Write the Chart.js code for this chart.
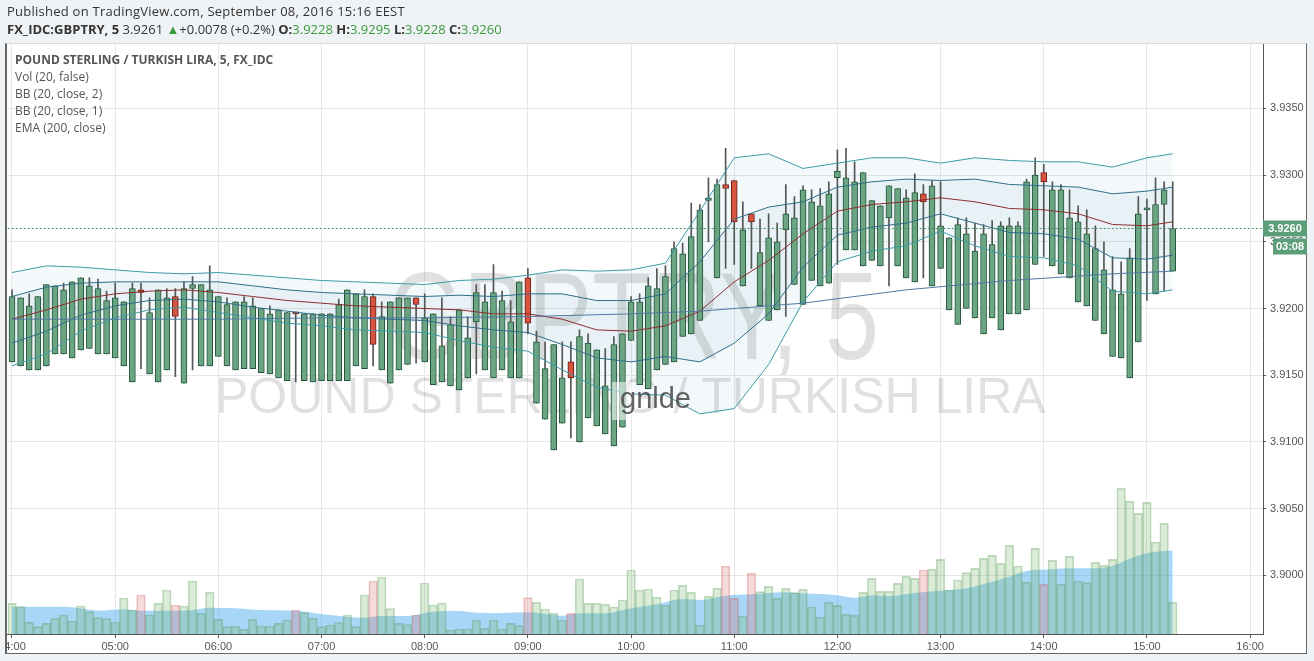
<!DOCTYPE html>
<html>
<head>
<meta charset="utf-8">
<script src="https://cdn.jsdelivr.net/npm/chart.js@4.4.0/dist/chart.umd.min.js"></script>
<style>
  html, body { margin: 0; padding: 0; }
  body { width: 1314px; height: 661px; background: #f0f3f6; position: relative; overflow: hidden; font-family: 'Open Sans', sans-serif; }
  #panel { position: absolute; left: 5px; top: 43px; width: 1299px; height: 609px; background: #fff;
           border-top: 1px solid #d6d9dd; border-left: 2px solid #666; border-right: 1px solid #666; border-bottom: 1px solid #666; }
  #chart { position: absolute; left: 0; top: 0; z-index: 1; }
  #leftcover { position: absolute; left: 0; top: 43px; width: 5px; height: 618px; background: #f0f3f6; z-index: 2; }
  .hdr { position: absolute; left: 7px; z-index: 3; white-space: nowrap; color: #333; }
  #pub { top: 2px; font-size: 13px; line-height: 18px; letter-spacing: 0.25px; }
  #sym { top: 20px; font-size: 13px; line-height: 18px; }
  #sym .g { color: #3a9a3e; }
  #legend { position: absolute; left: 15px; top: 51px; z-index: 3; font-size: 12px; line-height: 17px; color: #555; }
</style>
</head>
<body>
<div class="hdr" id="pub">Published on TradingView.com, September 08, 2016 15:16 EEST</div>
<div class="hdr" id="sym"><b>FX_IDC:GBPTRY, 5</b> 3.9261 <span class="g">&#9650;</span>+0.0078 (+0.2%) <b>O:</b><span class="g">3.9228</span> <b>H:</b><span class="g">3.9295</span> <b>L:</b><span class="g">3.9228</span> <b>C:</b><span class="g">3.9260</span></div>
<div id="panel"></div>
<canvas id="chart" width="1314" height="661"></canvas>
<div id="leftcover"></div>
<div id="legend"><b>POUND STERLING / TURKISH LIRA, 5, FX_IDC</b><br>Vol (20, false)<br>BB (20, close, 2)<br>BB (20, close, 1)<br>EMA (200, close)</div>
<script>
// 5-minute bars from 04:00, axis runs to 16:05
var times = [];
for (var h = 4; h <= 16; h++) {
	for (var m = 0; m < 60; m += 5) {
		if (times.length < 146) times.push((h < 10 ? '0' : '') + h + ':' + (m < 10 ? '0' : '') + m);
	}
}

var opens = [3.9160,3.9157,3.9154,3.9154,3.9157,3.9166,3.9166,3.9163,3.9169,3.9170,
3.9166,3.9166,3.9163,3.9157,3.9145,3.9214,3.9151,3.9145,3.9154,3.9209,
3.9144,3.9215,3.9157,3.9157,3.9164,3.9157,3.9154,3.9155,3.9155,3.9152,
3.9151,3.9148,3.9146,3.9197,3.9146,3.9145,3.9146,3.9146,3.9146,3.9146,
3.9157,3.9155,3.9209,3.9154,3.9144,3.9154,3.9158,3.9208,3.9160,3.9143,
3.9145,3.9142,3.9139,3.9148,3.9190,3.9154,3.9148,3.9154,3.9148,3.9148,
3.9223,3.9129,3.9117,3.9094,3.9114,3.9160,3.9100,3.9118,3.9112,3.9106,
3.9097,3.9111,3.9176,3.9143,3.9140,3.9154,3.9158,3.9160,3.9179,3.9181,
3.9191,3.9281,3.9223,3.9293,3.9296,3.9217,3.9271,3.9202,3.9191,3.9199,
3.9259,3.9218,3.9203,3.9221,3.9217,3.9219,3.9298,3.9244,3.9244,3.9232,
3.9236,3.9232,3.9268,3.9232,3.9223,3.9220,3.9286,3.9217,3.9230,3.9199,
3.9188,3.9200,3.9193,3.9181,3.9193,3.9184,3.9196,3.9196,3.9199,3.9233,
3.9302,3.9232,3.9226,3.9223,3.9205,3.9202,3.9191,3.9181,3.9164,3.9163,
3.9148,3.9175,3.9274,3.9211,3.9278,3.9228];

var highs = [3.9214,3.9208,3.9211,3.9209,3.9218,3.9217,3.9219,3.9220,3.9223,3.9223,
3.9222,3.9213,3.9219,3.9205,3.9219,3.9219,3.9208,3.9214,3.9215,3.9215,
3.9220,3.9224,3.9218,3.9232,3.9209,3.9208,3.9205,3.9209,3.9208,3.9200,
3.9202,3.9199,3.9197,3.9197,3.9196,3.9196,3.9196,3.9196,3.9207,3.9214,
3.9211,3.9214,3.9211,3.9205,3.9205,3.9208,3.9208,3.9208,3.9211,3.9196,
3.9208,3.9194,3.9199,3.9194,3.9218,3.9218,3.9233,3.9213,3.9206,3.9220,
3.9230,3.9183,3.9175,3.9173,3.9175,3.9175,3.9184,3.9181,3.9169,3.9170,
3.9179,3.9181,3.9209,3.9211,3.9223,3.9230,3.9232,3.9250,3.9249,3.9279,
3.9278,3.9298,3.9297,3.9320,3.9296,3.9280,3.9271,3.9267,3.9271,3.9264,
3.9293,3.9284,3.9292,3.9289,3.9290,3.9295,3.9319,3.9320,3.9310,3.9302,
3.9281,3.9277,3.9292,3.9290,3.9289,3.9301,3.9293,3.9296,3.9295,3.9253,
3.9268,3.9268,3.9264,3.9263,3.9266,3.9265,3.9268,3.9265,3.9297,3.9313,
3.9308,3.9295,3.9293,3.9289,3.9277,3.9274,3.9262,3.9250,3.9239,3.9235,
3.9245,3.9284,3.9282,3.9298,3.9295,3.9295];

var lows = [3.9160,3.9157,3.9154,3.9154,3.9157,3.9166,3.9166,3.9163,3.9169,3.9170,
3.9166,3.9166,3.9163,3.9157,3.9145,3.9155,3.9151,3.9145,3.9154,3.9149,
3.9144,3.9154,3.9157,3.9157,3.9164,3.9157,3.9154,3.9155,3.9155,3.9152,
3.9151,3.9148,3.9146,3.9145,3.9146,3.9145,3.9146,3.9146,3.9146,3.9146,
3.9157,3.9155,3.9157,3.9154,3.9144,3.9154,3.9158,3.9159,3.9160,3.9143,
3.9145,3.9142,3.9139,3.9148,3.9151,3.9154,3.9148,3.9154,3.9148,3.9148,
3.9181,3.9129,3.9117,3.9094,3.9114,3.9103,3.9100,3.9118,3.9112,3.9106,
3.9097,3.9111,3.9176,3.9143,3.9140,3.9154,3.9158,3.9160,3.9179,3.9181,
3.9191,3.9250,3.9223,3.9230,3.9233,3.9217,3.9230,3.9202,3.9191,3.9199,
3.9194,3.9218,3.9203,3.9221,3.9217,3.9219,3.9233,3.9244,3.9244,3.9232,
3.9236,3.9232,3.9217,3.9232,3.9223,3.9220,3.9223,3.9217,3.9230,3.9199,
3.9188,3.9200,3.9193,3.9181,3.9193,3.9184,3.9196,3.9196,3.9199,3.9233,
3.9239,3.9232,3.9226,3.9223,3.9205,3.9202,3.9191,3.9181,3.9164,3.9163,
3.9148,3.9175,3.9206,3.9211,3.9213,3.9228];

var closes = [3.9209,3.9208,3.9202,3.9209,3.9218,3.9217,3.9214,3.9220,3.9223,3.9217,
3.9215,3.9206,3.9208,3.9205,3.9215,3.9212,3.9197,3.9214,3.9208,3.9194,
3.9215,3.9218,3.9218,3.9214,3.9209,3.9203,3.9205,3.9205,3.9202,3.9200,
3.9196,3.9199,3.9197,3.9196,3.9196,3.9196,3.9196,3.9196,3.9203,3.9214,
3.9211,3.9209,3.9173,3.9194,3.9205,3.9208,3.9208,3.9203,3.9193,3.9196,
3.9172,3.9188,3.9199,3.9178,3.9212,3.9205,3.9212,3.9206,3.9190,3.9220,
3.9189,3.9175,3.9155,3.9173,3.9148,3.9148,3.9179,3.9174,3.9169,3.9142,
3.9173,3.9181,3.9205,3.9205,3.9217,3.9215,3.9224,3.9245,3.9241,3.9254,
3.9274,3.9283,3.9293,3.9290,3.9265,3.9259,3.9265,3.9242,3.9253,3.9250,
3.9271,3.9268,3.9289,3.9280,3.9277,3.9286,3.9303,3.9298,3.9295,3.9302,
3.9281,3.9277,3.9292,3.9290,3.9283,3.9287,3.9280,3.9292,3.9262,3.9253,
3.9263,3.9256,3.9243,3.9256,3.9248,3.9262,3.9262,3.9262,3.9295,3.9300,
3.9295,3.9289,3.9289,3.9268,3.9265,3.9256,3.9245,3.9229,3.9214,3.9211,
3.9238,3.9271,3.9275,3.9278,3.9289,3.9260];

var volumes = [307,273,117,73,107,157,190,130,280,223,
163,153,120,360,240,390,190,307,440,290,
280,530,207,417,147,73,80,47,147,80,
80,107,140,240,213,157,73,90,113,190,
73,390,530,570,253,107,93,190,510,290,
310,40,50,50,140,57,140,50,107,83,
363,317,250,207,140,207,550,307,307,297,
270,340,640,440,450,367,290,440,487,417,
87,377,457,680,357,180,607,423,477,357,
457,413,447,270,167,317,287,197,187,417,
557,427,427,507,577,557,640,647,747,440,
540,613,657,757,787,707,887,680,517,857,
497,737,497,777,530,513,717,687,747,1457,
1327,1207,1317,920,1107,317];

// volume average, read at these bars
var volMaBars = [0,4,6,8,10,13,15,18,21,23,26,29,33,36,39,41,43,46,47,49,52,54,57,60,63,64,66,69,72,75,
	78,80,83,86,90,92,96,98,100,102,105,108,111,114,116,118,121,123,126,128,130,132,134,135];
var volMa = [273,273,273,257,233,247,233,233,240,263,257,240,233,200,173,163,180,180,190,223,230,213,210,217,190,183,207,207,257,297,
	350,340,383,397,417,407,387,360,387,380,410,433,457,523,573,630,647,657,657,680,753,807,830,833];

// bollinger bands + ema, read every 4th bar
var bandBars = [0,4,8,12,16,20,24,28,32,36,40,44,48,52,56,60,64,68,72,76,80,84,88,92,96,100,104,108,112,116,120,124,128,132,135];
var bbUpper2 = [3.9227,3.9232,3.9231,3.9229,3.9227,3.9226,3.9227,3.9225,3.9223,3.9221,3.9220,3.9219,3.9218,3.9221,3.9222,3.9225,3.9229,3.9228,3.9229,3.9234,
	3.9273,3.9313,3.9316,3.9305,3.9309,3.9313,3.9313,3.9309,3.9313,3.9311,3.9310,3.9310,3.9306,3.9313,3.9316];
var bbUpper1 = [3.9209,3.9216,3.9219,3.9220,3.9220,3.9220,3.9220,3.9217,3.9214,3.9212,3.9211,3.9210,3.9209,3.9210,3.9209,3.9211,3.9211,3.9206,3.9206,3.9211,
	3.9235,3.9267,3.9276,3.9280,3.9291,3.9295,3.9297,3.9296,3.9297,3.9293,3.9292,3.9291,3.9286,3.9288,3.9291];
var bbBasis = [3.9192,3.9199,3.9207,3.9211,3.9213,3.9214,3.9212,3.9209,3.9206,3.9204,3.9202,3.9201,3.9200,3.9199,3.9196,3.9196,3.9192,3.9184,3.9183,3.9187,
	3.9198,3.9220,3.9236,3.9256,3.9273,3.9278,3.9280,3.9283,3.9280,3.9275,3.9274,3.9271,3.9263,3.9262,3.9265];
var bbLower1 = [3.9174,3.9183,3.9195,3.9202,3.9206,3.9207,3.9205,3.9201,3.9198,3.9195,3.9193,3.9192,3.9191,3.9187,3.9184,3.9182,3.9173,3.9163,3.9160,3.9164,
	3.9160,3.9174,3.9196,3.9231,3.9255,3.9261,3.9264,3.9271,3.9264,3.9257,3.9256,3.9252,3.9238,3.9237,3.9240];
var bbLower2 = [3.9157,3.9166,3.9183,3.9193,3.9199,3.9201,3.9197,3.9193,3.9189,3.9187,3.9184,3.9183,3.9182,3.9176,3.9171,3.9168,3.9154,3.9141,3.9136,3.9135,
	3.9121,3.9125,3.9158,3.9205,3.9235,3.9243,3.9247,3.9258,3.9247,3.9239,3.9238,3.9232,3.9213,3.9211,3.9214];
var emaBars = [0,12,24,36,48,60,72,80,92,104,116,128,135];
var ema200 = [3.9192,3.9192,3.9192,3.9193,3.9193,3.9194,3.9196,3.9198,3.9204,3.9214,3.9221,3.9226,3.9228];

var lastPrice = 3.9260;
var priceTicks = { min: 3.8956, max: 3.93983, step: 0.005 };

function pts(bars, vals) {
	return bars.map(function(b, j) { return { x: times[b], y: vals[j] }; });
}
var up = opens.map(function(o, i) { return closes[i] >= o; });
function isHour(i) { return times[i] && times[i].slice(3) == '00'; }

Chart.defaults.font.family = "'Liberation Sans', Arial, sans-serif";
Chart.defaults.font.size = 11;
Chart.defaults.color = '#555';

var bandFill = 'rgba(90,160,185,0.07)';
function bandLine(vals, color, fill) {
	return { type: 'line', data: pts(bandBars, vals), yAxisID: 'y', borderColor: color, borderWidth: 1,
		pointRadius: 0, fill: fill, backgroundColor: bandFill, order: 3 };
}

var watermark = {
	id: 'watermark',
	beforeDatasetsDraw: function(chart) {
		var c = chart.ctx;
		c.save();
		c.fillStyle = 'rgba(0,0,0,0.12)';
		c.font = "124px 'Liberation Sans', Arial";
		c.translate(388, 359);
		c.scale(0.78, 1);
		c.fillText('GBPTRY, 5', 0, 0);
		c.restore();
		c.save();
		c.fillStyle = 'rgba(0,0,0,0.12)';
		c.font = "50px 'Liberation Sans', Arial";
		c.fillText('POUND STERLING / TURKISH LIRA', 215, 413);
		c.restore();
	},
	afterDraw: function(chart) {
		var c = chart.ctx, a = chart.chartArea;
		var y = chart.scales.y.getPixelForValue(lastPrice);
		c.save();
		c.strokeStyle = '#4b8d6a';
		c.lineWidth = 1;
		c.setLineDash([2, 2]);
		c.beginPath();
		c.moveTo(a.left, Math.round(y) + 0.5);
		c.lineTo(a.right, Math.round(y) + 0.5);
		c.stroke();
		c.setLineDash([]);
		// last price + countdown tags
		c.fillStyle = '#5c9e78';
		c.fillRect(a.right, y - 8, 44, 16);
		c.fillRect(a.right + 10, y + 10, 34, 16);
		c.fillStyle = '#fff';
		c.font = "bold 11px 'Liberation Sans', Arial";
		c.textAlign = 'center';
		c.textBaseline = 'middle';
		c.fillText(lastPrice.toFixed(4), a.right + 22, y);
		c.fillText('03:08', a.right + 27, y + 18);
		// stray caption
		c.fillStyle = 'rgba(255,255,255,0.55)';
		c.fillRect(612, 382, 22, 38);
		c.fillStyle = 'rgba(70,70,70,0.85)';
		c.font = "29px 'Liberation Sans', Arial";
		c.textAlign = 'left';
		c.textBaseline = 'alphabetic';
		c.fillText('gnlde', 620, 408);
		c.restore();
	}
};

var ctx = document.getElementById('chart').getContext('2d');
var chart = new Chart(ctx, {
	type: 'bar',
	data: {
		labels: times,
		datasets: [
			{ type: 'bar', data: volumes, yAxisID: 'yv', grouped: false, categoryPercentage: 1, barPercentage: 1,
				backgroundColor: up.map(function(u) { return u ? 'rgba(110,180,100,0.25)' : 'rgba(220,110,110,0.25)'; }),
				borderColor: up.map(function(u) { return u ? 'rgba(80,150,80,0.35)' : 'rgba(200,90,90,0.35)'; }),
				borderWidth: 1, order: 30 },
			{ type: 'line', data: pts(volMaBars, volMa), yAxisID: 'yv', borderWidth: 0, pointRadius: 0,
				fill: 'origin', backgroundColor: 'rgba(60,165,235,0.45)', cubicInterpolationMode: 'monotone', order: 25 },
			bandLine(bbUpper2, '#3d9ca6', 6),
			bandLine(bbUpper1, '#2f6e8c', 5),
			{ type: 'line', data: pts(bandBars, bbBasis), yAxisID: 'y', borderColor: '#8c2d2d', borderWidth: 1, pointRadius: 0, fill: false, order: 2 },
			bandLine(bbLower1, '#2f6e8c', false),
			bandLine(bbLower2, '#3d9ca6', false),
			{ type: 'line', data: pts(emaBars, ema200), yAxisID: 'y', borderColor: '#4f7aa3', borderWidth: 1, pointRadius: 0, fill: false, order: 1 },
			{ type: 'bar', data: lows.map(function(l, i) { return [l, highs[i]]; }), yAxisID: 'y', grouped: false,
				barThickness: 1, backgroundColor: '#555', order: 11 },
			{ type: 'bar', data: opens.map(function(o, i) { return [Math.min(o, closes[i]), Math.max(o, closes[i])]; }),
				yAxisID: 'y', grouped: false, barThickness: 6, minBarLength: 2, borderSkipped: false, borderWidth: 1,
				backgroundColor: up.map(function(u) { return u ? '#6ba583' : '#d75442'; }),
				borderColor: up.map(function(u) { return u ? '#225437' : '#6b1f14'; }), order: 10 }
		]
	},
	options: {
		responsive: false,
		animation: false,
		layout: { autoPadding: false, padding: { left: 7.7, top: 44, right: 0, bottom: 6 } },
		plugins: { legend: { display: false }, tooltip: { enabled: false }, filler: { drawTime: 'beforeDatasetsDraw' } },
		scales: {
			x: {
				offset: true,
				grid: {
					offset: false, tickLength: 4,
					color: function(c) { return isHour(c.index) ? '#e6e6e6' : 'rgba(0,0,0,0)'; },
					tickColor: function(c) { return isHour(c.index) ? '#555' : 'rgba(0,0,0,0)'; }
				},
				border: { color: '#555', width: 1 },
				ticks: { autoSkip: false, maxRotation: 0, minRotation: 0, padding: 2, color: '#555',
					callback: function(v, i) { return isHour(i) ? times[i] : ''; } },
				afterFit: function(s) { s.height = 21; s.paddingLeft = 0; s.paddingRight = 0; }
			},
			y: {
				position: 'right',
				min: priceTicks.min, max: priceTicks.max,
				grid: { color: '#e6e6e6', tickColor: '#555', tickLength: 3 },
				border: { color: '#555', width: 1 },
				ticks: { stepSize: priceTicks.step, includeBounds: false, padding: 4, color: '#555',
					callback: function(v) { return v.toFixed(4); } },
				afterFit: function(s) { s.width = 51; s.paddingTop = 0; s.paddingBottom = 0; }
			},
			yv: { display: false, min: 0, max: 5900 }
		}
	},
	plugins: [watermark]
});
</script>
</body>
</html>
